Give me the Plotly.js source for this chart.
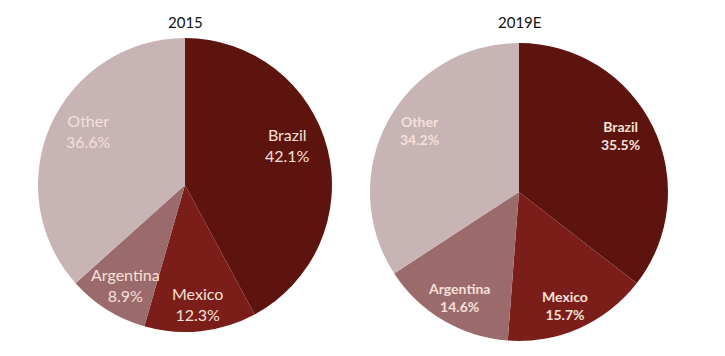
<!DOCTYPE html>
<html>
<head>
<meta charset="utf-8">
<script src="https://cdn.plot.ly/plotly-3.0.1.min.js"></script>
<style>html,body{margin:0;padding:0;background:#fff;}#chart{width:725px;height:356px;}</style>
</head>
<body>
<div id="chart"></div>
<script>
const categories = ["Brazil", "Mexico", "Argentina", "Other"];
const values2015 = [42.1, 12.3, 8.9, 36.6];
const values2019E = [35.5, 15.7, 14.6, 34.2];
const titles = ["2015", "2019E"];
const colors = ["#5e140e", "#7b1e19", "#9b6a6a", "#c8b3b5"];

const FONT = "Lato, 'Open Sans', sans-serif";
const W = 725, H = 356;

// label block centres in pixels (layout only)
const labelPos2015 = [[287, 145], [197, 304], [125, 285], [88, 131]];
const labelPos2019E = [[620, 135], [565, 305], [459, 297], [419, 131]];

function pie(values, domain) {
  return {
    type: "pie",
    labels: categories,
    values: values,
    sort: false,
    direction: "clockwise",
    rotation: 0,
    domain: domain,
    marker: {colors: colors, line: {width: 0}},
    textinfo: "none",
    hoverinfo: "label+value",
    showlegend: false
  };
}

const data = [
  pie(values2015, {x: [0.0524, 0.4579], y: [0.0674, 0.8933]}),
  pie(values2019E, {x: [0.5103, 0.9214], y: [0.0421, 0.8792]})
];

function labelAnns(values, pos, bold, size) {
  return categories.map((c, i) => {
    const t = c + "<br>" + values[i].toFixed(1) + "%";
    return {
      text: bold ? "<b>" + t + "</b>" : t,
      x: pos[i][0] / W, y: 1 - pos[i][1] / H,
      xref: "paper", yref: "paper",
      xanchor: "center", yanchor: "middle",
      showarrow: false,
      font: {family: FONT, size: size, color: "#f6e0da"}
    };
  });
}

const layout = {
  width: W, height: H,
  margin: {l: 0, r: 0, t: 0, b: 0},
  paper_bgcolor: "#ffffff",
  showlegend: false,
  annotations: [
    {text: titles[0], x: 185/W, y: 1 - 22/H, xref: "paper", yref: "paper", xanchor: "center", yanchor: "middle", showarrow: false, font: {family: FONT, size: 15, color: "#111"}},
    {text: titles[1], x: 519/W, y: 1 - 22/H, xref: "paper", yref: "paper", xanchor: "center", yanchor: "middle", showarrow: false, font: {family: FONT, size: 15, color: "#111"}}
  ].concat(labelAnns(values2015, labelPos2015, false, 16), labelAnns(values2019E, labelPos2019E, true, 14))
};

Plotly.newPlot("chart", data, layout, {displayModeBar: false, staticPlot: true});
</script>
</body>
</html>
